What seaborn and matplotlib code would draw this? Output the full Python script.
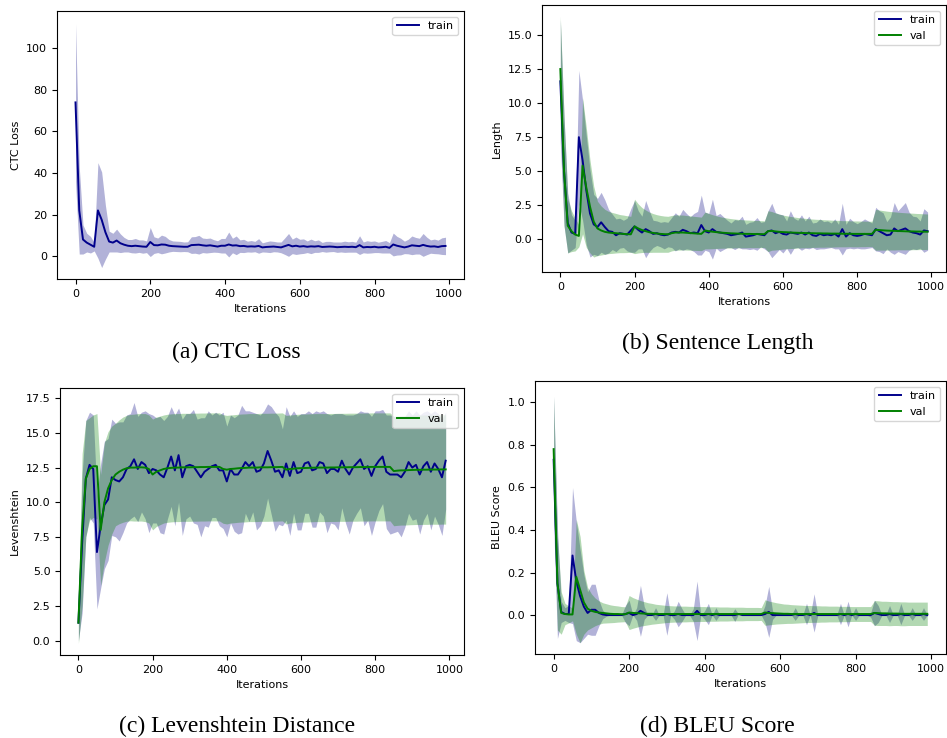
import numpy as np
import matplotlib
matplotlib.use("Agg")
import matplotlib.pyplot as plt
import seaborn as sns

# evaluation steps, every 10 iterations
iterations = list(range(0, 1000, 10))

# (a) CTC loss, train only
ctc_train_mean = [
    74, 22, 8, 6.5, 5.5, 4.5, 22, 17.5, 11.5, 7,
    6.5, 7.5, 6.2, 5.5, 5.0, 4.8, 5.0, 4.8, 4.6, 4.5,
    6.8, 5.3, 5.2, 5.6, 5.5, 5.0, 4.8, 4.7, 4.6, 4.5,
    4.5, 5.3, 5.4, 5.5, 5.2, 5.0, 5.2, 4.9, 4.6, 5.0,
    5.0, 5.6, 5.1, 5.2, 4.8, 4.9, 4.6, 4.7, 4.6, 4.9,
    4.2, 4.4, 4.5, 4.6, 4.4, 4.2, 4.8, 5.4, 4.7, 5.0,
    4.6, 4.8, 4.5, 4.7, 4.6, 4.8, 4.4, 4.5, 4.6, 4.5,
    4.3, 4.4, 4.5, 4.4, 4.5, 4.3, 5.3, 4.2, 4.4, 4.3,
    4.5, 4.2, 4.3, 4.5, 4.0, 5.6, 5.0, 4.6, 4.2, 4.6,
    5.2, 5.0, 4.8, 5.4, 4.9, 4.6, 4.7, 4.4, 4.8, 4.9,
]
ctc_train_sd = [
    38, 21, 7, 4.5, 4, 2, 23, 23, 13, 5,
    4.5, 5.5, 4.5, 3.5, 3, 3.2, 3.5, 3, 3.2, 2.8,
    7, 4, 3.5, 4.5, 4, 3, 2.5, 2.5, 2.5, 2.3,
    2.4, 4, 4, 4.5, 3.5, 3.5, 3.5, 3, 2.8, 3.5,
    3.5, 6, 3.5, 4.5, 3.0, 3.2, 2.6, 2.8, 2.5, 3.5,
    2.2, 2.5, 2.8, 2.5, 2.4, 2.6, 4, 5.5, 3.5, 4.2,
    3.5, 3.5, 2.8, 3.5, 2.8, 3.0, 2.2, 2.6, 2.5, 2.3,
    2.5, 2.4, 2.7, 2.5, 2.6, 2.4, 4.5, 2.6, 3.0, 2.8,
    2.8, 2.5, 2.8, 3.0, 2.5, 5.5, 4.5, 4, 3, 3.5,
    4.5, 4.0, 3.8, 5.5, 4.2, 3.2, 3.5, 3.3, 4.0, 4.2,
]

# (b) sentence length
len_train_mean = [
    11.6, 5.0, 1.2, 0.5, 0.4, 7.5, 5.8, 3.6, 1.9, 1.1,
    0.9, 1.25, 0.9, 0.6, 0.55, 0.3, 0.45, 0.4, 0.35, 0.65,
    0.95, 0.7, 0.5, 0.75, 0.6, 0.4, 0.45, 0.35, 0.3, 0.35,
    0.5, 0.55, 0.5, 0.7, 0.6, 0.45, 0.5, 0.45, 1.05, 0.6,
    0.5, 0.75, 0.55, 0.5, 0.45, 0.4, 0.3, 0.35, 0.4, 0.5,
    0.2, 0.25, 0.3, 0.4, 0.35, 0.3, 0.6, 0.65, 0.45, 0.55,
    0.4, 0.35, 0.5, 0.45, 0.4, 0.5, 0.35, 0.5, 0.3, 0.25,
    0.4, 0.3, 0.35, 0.3, 0.4, 0.2, 0.75, 0.2, 0.45, 0.3,
    0.25, 0.3, 0.4, 0.35, 0.3, 0.75, 0.6, 0.45, 0.3, 0.35,
    0.8, 0.6, 0.7, 0.8, 0.6, 0.5, 0.45, 0.35, 0.65, 0.6,
]
len_train_sd = [
    4.5, 4.0, 2.2, 1.3, 1.0, 4.9, 4.4, 4.0, 3.2, 2.2,
    2.1, 2.2, 2.0, 1.6, 1.3, 1.2, 1.1, 1.0, 1.2, 1.6,
    1.9, 1.4, 1.2, 2.1, 1.5, 1.0, 0.9, 0.9, 1.0, 0.9,
    1.1, 1.4, 1.2, 1.5, 1.3, 1.2, 1.4, 1.6, 2.2, 1.4,
    1.4, 2.2, 1.2, 1.4, 1.2, 1.0, 0.9, 1.1, 1.0, 1.2,
    0.9, 1.0, 1.0, 1.2, 0.9, 1.0, 1.5, 2.0, 1.5, 1.3,
    1.4, 1.0, 1.6, 1.1, 1.0, 1.3, 1.0, 1.2, 0.9, 1.0,
    1.1, 1.0, 1.0, 0.9, 1.1, 0.9, 1.9, 0.9, 1.1, 1.0,
    0.9, 1.0, 1.1, 1.0, 0.9, 1.6, 1.5, 1.5, 1.0, 1.3,
    1.9, 1.5, 1.7, 1.9, 1.4, 1.2, 1.2, 1.0, 1.6, 1.4,
]
len_val_mean = [
    12.5, 5.0, 1.0, 0.6, 0.35, 0.25, 5.4, 3.8, 2.4, 1.3,
    0.8, 0.65, 0.55, 0.5, 0.47, 0.45, 0.42, 0.4, 0.38, 0.37,
    0.95, 0.8, 0.68, 0.6, 0.52, 0.47, 0.43, 0.4, 0.38, 0.37,
    0.45, 0.5, 0.5, 0.5, 0.48, 0.46, 0.44, 0.42, 0.4, 0.65,
    0.6, 0.56, 0.53, 0.5, 0.48, 0.46, 0.44, 0.43, 0.42, 0.41,
    0.4, 0.4, 0.39, 0.39, 0.38, 0.38, 0.6, 0.62, 0.58, 0.55,
    0.53, 0.52, 0.5, 0.49, 0.48, 0.47, 0.46, 0.45, 0.45, 0.44,
    0.44, 0.43, 0.43, 0.42, 0.42, 0.42, 0.41, 0.41, 0.41, 0.4,
    0.4, 0.4, 0.4, 0.4, 0.4, 0.7, 0.68, 0.66, 0.64, 0.63,
    0.62, 0.61, 0.6, 0.59, 0.58, 0.58, 0.57, 0.57, 0.56, 0.56,
]
len_val_sd = [
    3.9, 4.0, 2.0, 1.5, 1.2, 0.8, 5.0, 4.4, 3.4, 2.6,
    2.0, 1.8, 1.65, 1.55, 1.5, 1.45, 1.4, 1.38, 1.35, 1.32,
    2.0, 1.8, 1.65, 1.55, 1.48, 1.42, 1.38, 1.35, 1.33, 1.32,
    1.3, 1.3, 1.29, 1.28, 1.27, 1.26, 1.25, 1.24, 1.23, 1.35,
    1.3, 1.25, 1.2, 1.16, 1.13, 1.1, 1.08, 1.06, 1.04, 1.03,
    1.02, 1.01, 1.0, 1.0, 0.99, 0.98, 1.5, 1.42, 1.36, 1.3,
    1.25, 1.21, 1.18, 1.15, 1.12, 1.1, 1.08, 1.06, 1.04, 1.03,
    1.02, 1.01, 1.0, 0.99, 0.98, 0.97, 0.96, 0.96, 0.95, 0.95,
    0.95, 0.94, 0.94, 0.93, 0.93, 1.5, 1.47, 1.45, 1.43, 1.41,
    1.4, 1.38, 1.37, 1.36, 1.35, 1.34, 1.33, 1.32, 1.31, 1.3,
]

# (c) levenshtein distance
lev_train_mean = [
    1.3, 7.0, 11.7, 12.7, 12.4, 6.4, 8.3, 9.8, 10.2, 11.8,
    11.6, 11.5, 11.8, 12.4, 12.6, 13.1, 12.4, 12.9, 12.7, 12.1,
    12.4, 12.3, 12.0, 11.8, 12.5, 13.3, 12.3, 13.4, 11.8, 12.6,
    12.7, 12.6, 12.2, 11.8, 12.2, 12.4, 12.6, 12.7, 12.3, 12.3,
    11.5, 12.4, 12.0, 12.0, 12.4, 12.9, 12.6, 12.9, 12.2, 12.3,
    12.8, 13.7, 13.0, 12.2, 12.3, 11.8, 12.8, 11.9, 12.9, 12.1,
    12.2, 12.8, 12.9, 12.3, 12.4, 12.9, 12.8, 12.1, 12.4, 12.4,
    12.2, 13.0, 12.4, 12.0, 12.5, 12.8, 13.1, 12.4, 12.6, 11.9,
    12.6, 13.0, 13.3, 12.2, 12.0, 12.0, 12.0, 11.8, 12.2, 12.9,
    12.5, 12.7, 12.0, 12.6, 12.9, 12.2, 12.8, 12.4, 11.8, 13.0,
]
lev_train_sd = [
    1.3, 5.0, 4.2, 3.8, 3.9, 4.1, 4.5, 4.6, 4.4, 4.2,
    4.1, 4.3, 4.0, 3.9, 3.8, 4.1, 3.8, 3.6, 3.9, 4.3,
    3.9, 3.8, 4.2, 4.1, 3.7, 3.6, 4.0, 3.4, 4.2, 3.8,
    3.7, 4.1, 3.8, 4.3, 3.9, 4.2, 3.7, 3.8, 4.0, 4.2,
    4.0, 3.9, 4.1, 4.3, 4.6, 3.7, 4.0, 3.6, 4.2, 4.0,
    3.8, 3.4, 3.9, 4.3, 3.9, 3.5, 4.1, 4.3, 3.7, 4.1,
    4.2, 3.6, 3.7, 4.1, 4.2, 3.6, 3.8, 4.3, 3.9, 4.0,
    4.2, 3.4, 3.9, 4.3, 3.8, 3.6, 3.5, 4.1, 3.9, 4.3,
    4.0, 3.6, 3.4, 4.1, 4.3, 4.2, 4.1, 4.3, 4.0, 3.7,
    3.8, 3.9, 4.3, 3.9, 3.7, 4.2, 3.8, 4.0, 4.2, 3.5,
]
lev_val_mean = [
    1.3, 8.0, 11.7, 12.4, 12.6, 12.6, 8.0, 10.0, 11.0, 11.6,
    12.0, 12.2, 12.35, 12.45, 12.5, 12.5, 12.52, 12.52, 12.5, 12.4,
    12.0, 12.2, 12.3, 12.4, 12.45, 12.48, 12.5, 12.5, 12.52, 12.52,
    12.52, 12.53, 12.53, 12.54, 12.54, 12.55, 12.55, 12.55, 12.55, 12.4,
    12.35, 12.4, 12.42, 12.45, 12.47, 12.48, 12.5, 12.5, 12.5, 12.52,
    12.52, 12.52, 12.53, 12.53, 12.54, 12.55, 12.35, 12.4, 12.42, 12.45,
    12.46, 12.47, 12.48, 12.49, 12.5, 12.5, 12.5, 12.5, 12.51, 12.51,
    12.52, 12.52, 12.52, 12.53, 12.53, 12.53, 12.54, 12.54, 12.54, 12.55,
    12.55, 12.55, 12.55, 12.55, 12.55, 12.25, 12.28, 12.3, 12.3, 12.32,
    12.33, 12.34, 12.34, 12.35, 12.35, 12.36, 12.36, 12.36, 12.37, 12.37,
]
lev_val_sd = [
    1.5, 5.5, 4.2, 3.7, 3.7, 3.8, 4.0, 4.3, 4.1, 3.9,
    3.7, 3.75, 3.8, 3.82, 3.84, 3.86, 3.88, 3.88, 3.9, 3.9,
    4.0, 3.95, 3.92, 3.9, 3.9, 3.9, 3.9, 3.9, 3.9, 3.9,
    3.9, 3.9, 3.9, 3.9, 3.9, 3.9, 3.9, 3.9, 3.9, 3.92,
    3.92, 3.9, 3.9, 3.9, 3.9, 3.9, 3.9, 3.9, 3.9, 3.9,
    3.9, 3.9, 3.9, 3.9, 3.9, 3.9, 3.92, 3.9, 3.9, 3.9,
    3.9, 3.9, 3.9, 3.9, 3.9, 3.9, 3.9, 3.9, 3.9, 3.9,
    3.9, 3.9, 3.9, 3.9, 3.9, 3.9, 3.9, 3.9, 3.9, 3.9,
    3.9, 3.9, 3.9, 3.9, 3.9, 3.95, 3.95, 3.95, 3.95, 3.95,
    3.95, 3.95, 3.95, 3.95, 3.95, 3.95, 3.95, 3.95, 3.95, 3.95,
]

# (d) BLEU score
bleu_train_mean = [
    0.73, 0.15, 0.015, 0.005, 0.005, 0.28, 0.16, 0.09, 0.04, 0.01,
    0.025, 0.025, 0.01, 0.003, 0.0, 0.0, 0.0, 0.0, 0.0, 0.005,
    0.01, 0.0, 0.005, 0.02, 0.01, 0.0, 0.0, 0.005, 0.0, 0.0,
    0.005, 0.0, 0.0, 0.005, 0.0, 0.0, 0.0, 0.0, 0.02, 0.0,
    0.0, 0.005, 0.0, 0.005, 0.0, 0.0, 0.0, 0.0, 0.0, 0.005,
    0.0, 0.0, 0.0, 0.0, 0.0, 0.0, 0.005, 0.015, 0.0, 0.0,
    0.0, 0.0, 0.0, 0.0, 0.005, 0.0, 0.0, 0.005, 0.0, 0.01,
    0.0, 0.0, 0.0, 0.0, 0.0, 0.0, 0.005, 0.0, 0.005, 0.0,
    0.005, 0.0, 0.0, 0.0, 0.0, 0.01, 0.005, 0.0, 0.0, 0.005,
    0.0, 0.0, 0.005, 0.0, 0.0, 0.005, 0.0, 0.0, 0.005, 0.0,
]
bleu_train_sd = [
    0.3, 0.26, 0.05, 0.03, 0.04, 0.32, 0.28, 0.22, 0.15, 0.1,
    0.12, 0.12, 0.06, 0.02, 0.005, 0.0, 0.0, 0.0, 0.0, 0.04,
    0.06, 0.0, 0.03, 0.12, 0.03, 0.0, 0.0, 0.03, 0.0, 0.0,
    0.1, 0.0, 0.02, 0.06, 0.03, 0.0, 0.0, 0.03, 0.14, 0.0,
    0.02, 0.05, 0.0, 0.03, 0.0, 0.0, 0.0, 0.0, 0.03, 0.0,
    0.0, 0.0, 0.0, 0.0, 0.0, 0.0, 0.04, 0.12, 0.02, 0.0,
    0.0, 0.0, 0.0, 0.0, 0.03, 0.0, 0.0, 0.05, 0.0, 0.09,
    0.0, 0.0, 0.0, 0.0, 0.0, 0.0, 0.05, 0.0, 0.06, 0.0,
    0.03, 0.0, 0.0, 0.0, 0.01, 0.06, 0.04, 0.0, 0.0, 0.04,
    0.0, 0.0, 0.05, 0.0, 0.0, 0.03, 0.0, 0.0, 0.03, 0.0,
]
bleu_val_mean = [
    0.78, 0.15, 0.01, 0.005, 0.003, 0.003, 0.18, 0.12, 0.06, 0.03,
    0.02, 0.015, 0.012, 0.01, 0.008, 0.006, 0.005, 0.005, 0.004, 0.004,
    0.012, 0.01, 0.009, 0.008, 0.007, 0.006, 0.006, 0.005, 0.005, 0.005,
    0.005, 0.005, 0.005, 0.005, 0.005, 0.005, 0.005, 0.005, 0.005, 0.005,
    0.005, 0.005, 0.005, 0.005, 0.005, 0.005, 0.005, 0.005, 0.005, 0.005,
    0.005, 0.005, 0.005, 0.005, 0.005, 0.005, 0.012, 0.01, 0.009, 0.008,
    0.007, 0.006, 0.006, 0.005, 0.005, 0.005, 0.005, 0.005, 0.005, 0.005,
    0.005, 0.005, 0.005, 0.005, 0.005, 0.005, 0.005, 0.005, 0.005, 0.005,
    0.005, 0.005, 0.005, 0.005, 0.005, 0.01, 0.009, 0.008, 0.008, 0.007,
    0.007, 0.007, 0.006, 0.006, 0.006, 0.006, 0.006, 0.006, 0.006, 0.006,
]
bleu_val_sd = [
    0.25, 0.22, 0.1, 0.05, 0.04, 0.03, 0.27, 0.25, 0.15, 0.1,
    0.08, 0.065, 0.055, 0.048, 0.045, 0.042, 0.04, 0.038, 0.036, 0.035,
    0.08, 0.072, 0.066, 0.06, 0.056, 0.052, 0.049, 0.046, 0.044, 0.042,
    0.04, 0.039, 0.038, 0.038, 0.037, 0.037, 0.036, 0.036, 0.035, 0.035,
    0.035, 0.034, 0.034, 0.034, 0.033, 0.033, 0.033, 0.032, 0.032, 0.032,
    0.032, 0.031, 0.031, 0.031, 0.031, 0.03, 0.06, 0.056, 0.053, 0.05,
    0.048, 0.046, 0.045, 0.044, 0.043, 0.042, 0.041, 0.04, 0.04, 0.039,
    0.039, 0.038, 0.038, 0.037, 0.037, 0.037, 0.036, 0.036, 0.036, 0.035,
    0.035, 0.035, 0.035, 0.035, 0.035, 0.058, 0.058, 0.057, 0.057, 0.057,
    0.056, 0.056, 0.056, 0.056, 0.055, 0.055, 0.055, 0.055, 0.055, 0.055,
]

TRAIN_COLOR = "darkblue"
TRAIN_FILL = "navy"
VAL_COLOR = "green"
plt.rcParams["font.size"] = 8


def draw_band(ax, mean, sd, line_color, fill_color, label):
    mean = np.asarray(mean)
    sd = np.asarray(sd)
    ax.fill_between(iterations, mean - sd, mean + sd, color=fill_color, alpha=0.3, lw=0)
    sns.lineplot(x=iterations, y=mean, color=line_color, lw=1.4, label=label, ax=ax)


fig = plt.figure(figsize=(9.47, 7.38), dpi=100)

panels = [
    # rect, ylabel, ylim, caption, caption position
    ([0.0602, 0.622, 0.4298, 0.3631], "CTC Loss", (-11, 118), "(a) CTC Loss", (0.25, 0.522)),
    ([0.5723, 0.6314, 0.4266, 0.3618], "Length", (-2.4, 17.2), "(b) Sentence Length", (0.758, 0.535)),
    ([0.0634, 0.1125, 0.4266, 0.3618], "Levenshtein", (-1.03, 18.25), "(c) Levenshtein Distance", (0.25, 0.015)),
    ([0.5649, 0.1138, 0.434, 0.3699], "BLEU Score", (-0.183, 1.10), "(d) BLEU Score", (0.758, 0.015)),
]
series = [
    [(ctc_train_mean, ctc_train_sd)],
    [(len_train_mean, len_train_sd), (len_val_mean, len_val_sd)],
    [(lev_train_mean, lev_train_sd), (lev_val_mean, lev_val_sd)],
    [(bleu_train_mean, bleu_train_sd), (bleu_val_mean, bleu_val_sd)],
]

for (rect, ylabel, ylim, caption, cpos), data in zip(panels, series):
    ax = fig.add_axes(rect)
    # bands first so the mean lines sit on top
    train, val = data[0], (data[1] if len(data) > 1 else None)
    draw_band(ax, train[0], train[1], TRAIN_COLOR, TRAIN_FILL, "train")
    if val is not None:
        draw_band(ax, val[0], val[1], VAL_COLOR, VAL_COLOR, "val")
    ax.set_xlim(-49.5, 1039.5)
    ax.set_ylim(*ylim)
    ax.set_xticks([0, 200, 400, 600, 800, 1000])
    ax.set_xlabel("Iterations")
    ax.set_ylabel(ylabel)
    ax.legend(loc="upper right", fontsize=8)
    fig.text(cpos[0], cpos[1], caption, ha="center", va="center",
             family="Liberation Serif", fontsize=17)

fig.savefig("out.png", dpi=100)
